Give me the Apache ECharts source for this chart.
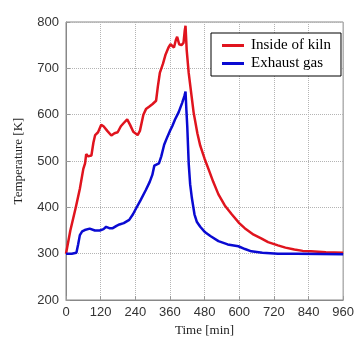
<!DOCTYPE html>
<html><head><meta charset="utf-8">
<script src="https://cdn.jsdelivr.net/npm/echarts@6/dist/echarts.min.js"></script>
<style>html,body{margin:0;padding:0;background:#fff}#c{width:357px;height:343px}</style>
</head><body><div id="c"></div>
<script>
var xTicks = [0,120,240,360,480,600,720,840,960];
var yTicks = [200,300,400,500,600,700,800];
var seriesNames = ['Inside of kiln','Exhaust gas'];
var kilnTime = [0,15,34,48,60,66,70,76,88,95,101,111,122,130,143,157,168,179,190,200,212,222,233,248,256,268,277,290,300,312,318,325,336,345,355,362,368,374,380,385,392,400,407,411,414,418,425,435,442,455,465,480,494,510,528,550,574,600,619,650,676,700,734,760,791,820,848,900,960];
var kilnTemp = [300,350,400,440,483,495,515,510,512,540,556,562,578,575,565,555,560,562,575,582,590,578,563,556,565,600,612,618,623,630,660,690,710,730,745,752,748,745,760,768,752,750,755,780,792,740,690,640,605,560,533,505,482,455,428,404,385,366,355,341,333,325,318,313,309,306,305,303,302];
var gasTime = [0,20,36,42,48,56,65,82,100,117,130,139,150,162,175,185,200,219,232,243,258,277,290,299,306,312,322,330,340,351,360,368,378,390,402,410,414,417,420,425,430,436,445,453,465,482,500,528,560,597,620,642,680,734,800,960];
var gasTemp = [300,300,302,320,340,348,351,354,350,350,353,358,355,355,360,363,366,373,385,398,415,438,455,470,490,494,495,510,535,552,565,575,590,605,625,640,650,610,575,495,450,420,385,369,358,346,338,327,320,316,310,305,302,300,300,299];

function pairs(t, v){ return t.map(function(x,i){ return [x, v[i]]; }); }

var chart = echarts.init(document.getElementById('c'), null, {renderer:'canvas'});
chart.setOption({
  animation:false,
  backgroundColor:'#fff',
  grid:{left:66, right:11, top:22, bottom:43, show:true, borderColor:'#888', borderWidth:1},
  legend:{
    data:seriesNames, orient:'vertical', left:211, top:33,
    backgroundColor:'#fff', borderColor:'#000', borderWidth:1, borderRadius:0,
    padding:[5,10,5,11], itemGap:3, itemWidth:22, itemHeight:3, icon:'rect',
    textStyle:{fontFamily:'Liberation Serif', fontSize:15, color:'#000', padding:[0,0,0,2]}
  },
  xAxis:{
    type:'value', min:xTicks[0], max:xTicks[xTicks.length-1], interval:120,
    name:'Time [min]', nameLocation:'middle', nameGap:23,
    nameTextStyle:{fontFamily:'Liberation Serif', fontSize:13, color:'#222'},
    axisLine:{lineStyle:{color:'#888'}},
    axisTick:{inside:true, length:4, lineStyle:{color:'#999'}},
    axisLabel:{fontFamily:'Liberation Sans', fontSize:13, color:'#333', margin:6},
    splitLine:{show:true, lineStyle:{type:'dotted', color:'#b4b4b4'}}
  },
  yAxis:{
    type:'value', min:yTicks[0], max:yTicks[yTicks.length-1], interval:100,
    name:'Temperature [K]', nameLocation:'middle', nameGap:41,
    nameTextStyle:{fontFamily:'Liberation Serif', fontSize:13, color:'#222'},
    axisLine:{show:true, lineStyle:{color:'#888'}},
    axisTick:{show:true, inside:true, length:4, lineStyle:{color:'#999'}},
    axisLabel:{fontFamily:'Liberation Sans', fontSize:13, color:'#333', margin:7},
    splitLine:{show:true, lineStyle:{type:'dotted', color:'#b4b4b4'}}
  },
  series:[
    {name:seriesNames[0], type:'line', data:pairs(kilnTime,kilnTemp), symbol:'none', itemStyle:{color:'#e0141e'}, lineStyle:{color:'#e0141e', width:2.5}},
    {name:seriesNames[1], type:'line', data:pairs(gasTime,gasTemp), symbol:'none', itemStyle:{color:'#0a0ad2'}, lineStyle:{color:'#0a0ad2', width:2.5}}
  ]
});
</script></body></html>
